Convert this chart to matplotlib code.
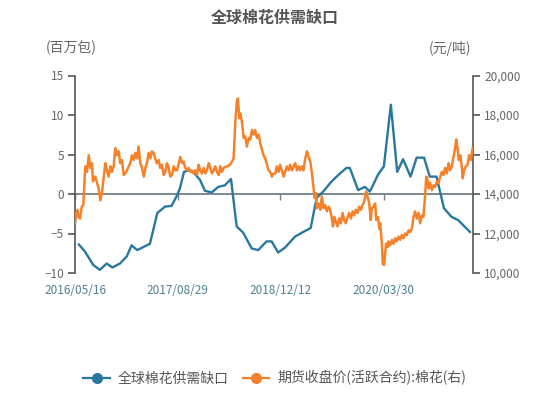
import matplotlib
matplotlib.use("Agg")
import matplotlib.pyplot as plt
from matplotlib.lines import Line2D
from matplotlib.ticker import FuncFormatter
import pandas as pd

plt.rcParams['font.family'] = ['Noto Sans CJK SC', 'DejaVu Sans']

title = "全球棉花供需缺口"
left_unit = "(百万包)"
right_unit = "(元/吨)"
series_gap_name = "全球棉花供需缺口"
series_price_name = "期货收盘价(活跃合约):棉花(右)"

start_date = "2016-05-16"
end_days = 1822
tick_dates = ["2016/05/16", "2017/08/29", "2018/12/12", "2020/03/30"]
left_ticks = [-10, -5, 0, 5, 10, 15]
right_ticks = [10000, 12000, 14000, 16000, 18000, 20000]

# global cotton supply-demand gap (million bales), days since start_date
gap_days = [18, 46, 84, 114, 145, 171, 206, 237, 259, 285, 343, 377, 412, 442,
            465, 480, 499, 518, 541, 572, 595, 626, 656, 686, 714, 740, 770,
            809, 839, 877, 900, 930, 961, 1007, 1045, 1079, 1106, 1136, 1175,
            1213, 1243, 1258, 1296, 1327, 1350, 1388, 1414, 1446, 1475, 1502,
            1536, 1564, 1598, 1624, 1655, 1689, 1724, 1754, 1808]
gap_vals = [-6.4, -7.3, -9.0, -9.6, -8.8, -9.3, -8.8, -7.9, -6.5, -7.1, -6.3,
            -2.4, -1.6, -1.5, -0.3, 0.7, 2.8, 3.0, 2.8, 1.8, 0.4, 0.2, 0.9,
            1.1, 1.9, -4.1, -4.9, -6.9, -7.1, -6.0, -6.0, -7.4, -6.8, -5.4,
            -4.8, -4.3, -0.5, 0.3, 1.6, 2.6, 3.3, 3.3, 0.5, 0.9, 0.3, 2.5,
            3.5, 11.3, 2.8, 4.4, 2.2, 4.6, 4.6, 2.2, 2.2, -1.8, -2.9, -3.3,
            -4.8]

# cotton futures close (yuan/ton), days since start_date
price_days = [0, 7, 11, 16, 23, 31, 38, 47, 55, 63, 70, 78, 82, 93, 101, 108,
              116, 124, 131, 139, 146, 154, 162, 169, 177, 184, 192, 200, 207,
              215, 223, 230, 238, 246, 253, 261, 269, 276, 284, 291, 299, 307,
              315, 322, 329, 337, 345, 352, 360, 367, 375, 383, 390, 398, 406,
              413, 421, 429, 436, 444, 452, 459, 467, 475, 482, 490, 497, 505,
              513, 520, 528, 535, 543, 550, 558, 566, 573, 581, 589, 596, 604,
              612, 619, 627, 635, 642, 650, 658, 665, 673, 680, 696, 711, 726,
              734, 741, 746, 752, 756, 764, 772, 779, 787, 795, 802, 810, 818,
              825, 833, 841, 848, 856, 863, 871, 879, 886, 894, 901, 909, 917,
              924, 932, 939, 947, 955, 962, 970, 978, 985, 993, 1001, 1008,
              1016, 1024, 1031, 1039, 1046, 1054, 1062, 1069, 1077, 1084,
              1092, 1097, 1103, 1107, 1115, 1123, 1130, 1138, 1145, 1153,
              1161, 1168, 1176, 1181, 1187, 1194, 1202, 1209, 1217, 1225,
              1232, 1240, 1248, 1255, 1263, 1271, 1278, 1286, 1294, 1301,
              1309, 1316, 1324, 1333, 1339, 1347, 1354, 1359, 1367, 1374,
              1379, 1387, 1393, 1397, 1405, 1409, 1415, 1420, 1424, 1431,
              1435, 1443, 1451, 1458, 1466, 1473, 1481, 1489, 1496, 1504,
              1511, 1519, 1527, 1534, 1542, 1550, 1557, 1565, 1573, 1580,
              1588, 1595, 1603, 1608, 1614, 1619, 1626, 1634, 1641, 1649,
              1656, 1664, 1672, 1679, 1687, 1694, 1702, 1710, 1717, 1725,
              1733, 1740, 1745, 1751, 1757, 1764, 1771, 1775, 1781, 1789,
              1797, 1804, 1812, 1818, 1821]
price_vals = [12520, 13040, 13200, 12840, 12760, 13360, 13440, 15400, 15120,
              15960, 15320, 15560, 14640, 14880, 14560, 14280, 13680, 14120,
              14800, 15560, 15200, 14880, 15400, 15120, 15400, 16320, 15960,
              16160, 15560, 15720, 14960, 15040, 15200, 15400, 15560, 15960,
              15720, 16080, 15800, 16400, 15560, 15320, 14880, 15320, 15560,
              16080, 15800, 16160, 16080, 15800, 15560, 15720, 15320, 15480,
              14960, 15120, 15560, 15320, 14880, 14960, 15400, 15200, 15200,
              15560, 15880, 15560, 15640, 15320, 15200, 15320, 15120, 15200,
              15040, 15200, 14960, 15480, 15200, 15040, 15320, 15040, 15200,
              15560, 15320, 15040, 15200, 15400, 15120, 14960, 15400, 15120,
              15320, 15400, 15480, 15800, 17680, 18680, 18840, 17840, 18080,
              17680, 16840, 16920, 16400, 16840, 16760, 17240, 17000, 17240,
              16840, 17000, 16560, 16240, 15960, 15800, 15480, 15200, 15120,
              14880, 15040, 15040, 15400, 15120, 15480, 15200, 14880, 15120,
              15400, 15200, 15480, 15200, 15400, 15560, 15200, 15400, 15200,
              15400, 15200, 15800, 16160, 15880, 15640, 15120, 14280, 13800,
              14040, 13280, 13520, 13200, 13880, 13280, 13440, 13120, 13360,
              13200, 12760, 12360, 12840, 12600, 12360, 12760, 12520, 13040,
              12680, 12520, 12840, 13040, 12760, 13120, 12920, 13200, 13040,
              13360, 13200, 13440, 13600, 14120, 13880, 13520, 12680, 13280,
              13360, 13520, 12680, 12840, 12240, 12520, 11480, 10480, 10400,
              11000, 11480, 11320, 11600, 11400, 11680, 11480, 11760, 11600,
              11840, 11680, 11920, 11760, 12000, 11920, 12160, 12080, 12240,
              12840, 13120, 12760, 13040, 12520, 12920, 12840, 13960, 14880,
              14720, 14280, 14560, 14200, 14440, 14360, 14640, 14560, 14880,
              15120, 14960, 15320, 15040, 15560, 15200, 15400, 15880, 16320,
              16760, 16320, 15720, 15960, 15320, 14800, 15200, 15400, 15480,
              15960, 15720, 16160, 16320]

BLUE = '#2a789e'
ORANGE = '#f5822a'
AXIS = '#555555'
TXT = '#666666'

t0 = pd.Timestamp(start_date)
gap_x = t0 + pd.to_timedelta(gap_days, unit='D')
price_x = t0 + pd.to_timedelta(price_days, unit='D')
ticks_x = pd.to_datetime(tick_dates, format="%Y/%m/%d")

fig = plt.figure(figsize=(5.5, 3.98), dpi=100)
ax = fig.add_axes([75/550, 1-273/398, (473-75)/550, (273-75.5)/398])
ax2 = ax.twinx()

ax.plot(gap_x, gap_vals, color=BLUE, lw=1.7, zorder=3)
ax2.plot(price_x, price_vals, color=ORANGE, lw=1.8, zorder=3)

ax.set_xlim(t0, t0 + pd.Timedelta(days=end_days))
ax.set_ylim(-10, 15)
ax2.set_ylim(10000, 20000)

for a in (ax, ax2):
    a.spines['top'].set_visible(False)
    a.spines['bottom'].set_visible(False)
ax.spines['right'].set_visible(False)
ax2.spines['left'].set_visible(False)
ax.spines['left'].set_color(AXIS)
ax2.spines['right'].set_color(AXIS)
ax.spines['left'].set_linewidth(1.2)
ax2.spines['right'].set_linewidth(1.2)

ax.set_yticks(left_ticks)
ax.tick_params(axis='y', direction='out', length=5, width=1.2, color=AXIS,
               labelcolor=TXT, labelsize=8.5, pad=3)
ax2.set_yticks(right_ticks)
ax2.yaxis.set_major_formatter(FuncFormatter(lambda v, p: f"{int(v):,}"))
ax2.tick_params(axis='y', direction='out', length=5, width=1.2, color=AXIS,
                labelcolor=TXT, labelsize=8.5, pad=3)

ax.set_xticks(ticks_x)
ax.set_xticklabels(tick_dates)
ax.tick_params(axis='x', length=0, pad=8, labelsize=8.5, labelcolor='#4f7f91')

# zero axis line with ticks
sec = ax.secondary_xaxis(10/25)
sec.set_xticks(ticks_x)
sec.set_xticklabels([])
sec.spines['bottom'].set_color('#708088')
sec.spines['bottom'].set_linewidth(1.3)
sec.tick_params(axis='x', direction='out', length=4, width=1, color='#708088')

fig.text(0.5, 1-18/398, title, ha='center', va='center', fontsize=11.5,
         fontweight='bold', color='#555555')
fig.text(71/550, 1-48/398, left_unit, ha='center', va='center', fontsize=10, color=TXT)
fig.text(450/550, 1-48/398, right_unit, ha='center', va='center', fontsize=10, color=TXT)

handles = [Line2D([], [], color=BLUE, lw=1.6, marker='o', markersize=7),
           Line2D([], [], color=ORANGE, lw=1.6, marker='o', markersize=7)]
fig.legend(handles, [series_gap_name, series_price_name], loc='center',
           bbox_to_anchor=(0.5, 1-378/398), ncol=2, frameon=False,
           fontsize=10, handlelength=1.9, handletextpad=0.6, columnspacing=1.0,
           labelcolor='#555555')

fig.savefig("out.png", dpi=100)
